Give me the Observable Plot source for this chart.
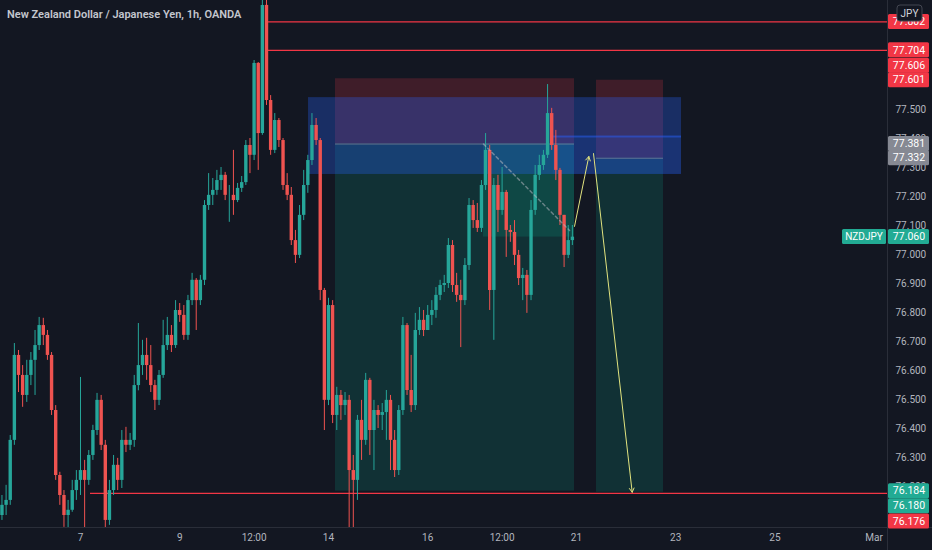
<!DOCTYPE html>
<html><head><meta charset="utf-8">
<script src="https://cdn.jsdelivr.net/npm/d3@7"></script>
<script src="https://cdn.jsdelivr.net/npm/@observablehq/plot@0.6"></script>
<style>
html,body{margin:0;padding:0;background:#131722;overflow:hidden}
</style>
</head><body><div id="chart"></div>
<script>
// ---- Data (2-hour bars, NZDJPY, OANDA) ----
const firstOpen = 76.100;
const firstBarDay = -19 / 12;   // trading-day index of the first bar (0 = Feb 7)
const barStepDay = 1 / 12;      // each bar = 2 hours
const close = [76.135,76.152,76.359,76.652,76.583,76.514,76.583,76.635,76.686,76.755,
76.721,76.652,76.462,76.238,76.169,76.100,76.118,76.186,76.221,76.255,
76.221,76.307,76.393,76.497,76.342,76.083,76.186,76.273,76.221,76.359,
76.342,76.359,76.548,76.617,76.652,76.617,76.548,76.497,76.583,76.686,
76.721,76.686,76.807,76.790,76.721,76.841,76.911,76.841,76.911,77.169,
77.204,77.221,77.255,77.273,77.204,77.204,77.186,77.228,77.248,77.376,
77.342,77.659,77.417,77.859,77.531,77.359,77.462,77.393,77.238,77.204,
77.048,76.997,77.135,77.238,77.324,77.445,77.393,76.876,76.497,76.824,
76.445,76.514,76.479,76.497,76.255,76.221,76.428,76.359,76.566,76.393,
76.462,76.445,76.455,76.497,76.359,76.255,76.462,76.755,76.531,76.479,
76.738,76.773,76.738,76.790,76.807,76.859,76.893,76.900,77.031,76.893,
76.859,76.841,76.962,77.169,77.117,77.090,77.238,77.359,76.876,77.238,
77.152,77.214,77.083,77.076,76.997,76.917,76.928,76.859,77.152,77.273,
77.307,77.342,77.486,77.376,77.290,77.135,76.997,77.048,77.060];
const high = [76.169,76.204,76.376,76.693,76.669,76.617,76.635,76.662,76.738,76.783,
76.780,76.738,76.662,76.479,76.249,76.186,76.152,76.221,76.255,76.576,
76.290,76.324,76.411,76.521,76.514,76.359,76.221,76.307,76.297,76.393,
76.404,76.383,76.583,76.762,76.704,76.711,76.686,76.566,76.600,76.773,
76.783,76.755,76.841,76.831,76.824,76.859,76.935,76.917,76.928,77.186,
77.279,77.262,77.290,77.300,77.283,77.238,77.359,77.245,77.269,77.393,
77.400,77.669,77.662,77.928,77.910,77.548,77.486,77.469,77.400,77.279,
77.231,77.083,77.169,77.290,77.342,77.486,77.469,77.400,76.883,76.849,
76.841,76.542,76.531,76.524,76.514,76.307,76.445,76.497,76.590,76.573,
76.497,76.479,76.486,76.531,76.514,76.393,76.479,76.783,76.762,76.652,
76.797,76.817,76.807,76.824,76.841,76.886,76.911,76.928,77.055,77.048,
76.935,76.911,76.986,77.193,77.186,77.176,77.255,77.417,77.376,77.262,
77.273,77.300,77.221,77.100,77.117,77.014,76.952,76.945,77.186,77.307,
77.342,77.359,77.586,77.504,77.428,77.297,77.135,77.100,77.100];
const low = [76.083,76.100,76.135,76.342,76.524,76.473,76.490,76.548,76.514,76.669,
76.686,76.635,76.445,76.221,76.135,76.059,76.049,76.111,76.152,76.169,
76.049,76.204,76.290,76.376,76.324,76.049,76.066,76.169,76.186,76.193,
76.317,76.324,76.335,76.530,76.583,76.566,76.524,76.462,76.479,76.573,
76.669,76.662,76.676,76.766,76.704,76.704,76.824,76.738,76.824,76.893,
77.152,77.169,77.204,77.221,77.186,77.111,77.135,77.179,77.214,77.238,
77.279,77.324,77.290,77.411,77.514,77.342,77.348,77.369,77.221,77.186,
77.031,76.969,76.986,77.117,77.211,77.307,77.376,76.841,76.393,76.479,
76.417,76.393,76.428,76.445,75.997,76.014,76.152,76.290,76.342,76.307,
76.255,76.400,76.393,76.359,76.255,76.231,76.238,76.445,76.514,76.455,
76.462,76.721,76.717,76.738,76.755,76.780,76.841,76.869,76.883,76.869,
76.835,76.679,76.824,76.945,77.090,77.076,77.076,77.221,76.807,76.704,
77.076,77.135,76.990,77.042,76.962,76.893,76.841,76.797,76.841,77.135,
77.255,77.290,77.331,77.359,77.255,77.100,76.955,76.986,77.031];

// x axis ticks (trading-day index) and their labels
const tickDays = [0, 2, 3.5, 5, 7, 8.5, 10, 12, 14, 16];
const tickLabels = ["7", "9", "12:00", "14", "16", "12:00", "21", "23", "25", "Mar"];
const priceTicks = [76.2,76.3,76.4,76.5,76.6,76.7,76.8,76.9,77.0,77.1,77.2,77.3,77.4,77.5];
const viewDays = [-1.6129, 16.2702];
const viewPrices = [76.0586, 77.8759];

// drawings (in time / price units)
const positions = [
  {start: 5.141, end: 9.960, entry: 77.381, stop: 77.606, target: 76.184},
  {start: 10.403, end: 11.754, entry: 77.332, stop: 77.601, target: 76.180}
];
const pnlArea = [{start: 8.125, end: 9.960, from: 77.381, to: 77.060}];
const zoneMain = [{start: 4.597, end: 12.117, top: 77.541, bottom: 77.276}];
const zoneInner = [{start: 9.536, end: 12.117, top: 77.407, bottom: 77.276}];
const hLines = [
  {price: 77.802, from: 3.79, to: 16.2702},
  {price: 77.704, from: 3.79, to: 16.2702},
  {price: 76.176, from: 0.2016, to: 16.2702}
];
const arrows = [
  {t1: 9.960, p1: 77.097, t2: 10.248, p2: 77.338},
  {t1: 10.343, p1: 77.348, t2: 11.123, p2: 76.180}
];
const dashPath = [{t: 8.125, p: 77.381}, {t: 9.86, p: 77.083}];

// right-axis badges: value, text, kind, nudge (label stacking like TradingView)
const badges = [
  {price: 77.802, label: "77.802", kind: "red", nudge: 0},
  {price: 77.704, label: "77.704", kind: "red", nudge: 0},
  {price: 77.606, label: "77.606", kind: "red", nudge: -13},
  {price: 77.601, label: "77.601", kind: "red", nudge: 0},
  {price: 77.381, label: "77.381", kind: "grey", nudge: 0},
  {price: 77.332, label: "77.332", kind: "grey", nudge: 0},
  {price: 77.060, label: "77.060", kind: "teal", nudge: 0},
  {price: 76.184, label: "76.184", kind: "teal", nudge: 0},
  {price: 76.180, label: "76.180", kind: "teal", nudge: 14},
  {price: 76.176, label: "76.176", kind: "red", nudge: 28}
];
const symbolName = "NZDJPY";
const lastPrice = 77.060;
const currencyTag = "JPY";
const title = "New Zealand Dollar / Japanese Yen, 1h, OANDA";

// ---- build ----
const UP = "#26a69a", DOWN = "#ef5350";
const bars = close.map((c, i) => {
  const o = i === 0 ? firstOpen : close[i - 1];
  return {t: firstBarDay + i * barStepDay, o, c,
          h: Math.max(high[i], o, c), l: Math.min(low[i], o, c),
          col: c >= o ? UP : DOWN};
});

const chart = Plot.plot({
  width: 932, height: 550,
  marginLeft: 0, marginRight: 45, marginTop: 0, marginBottom: 23,
  style: {background: "#131722", color: "#b2b5be", fontFamily: "Roboto, 'Noto Sans', sans-serif", fontSize: "10px"},
  x: {domain: viewDays, axis: null},
  y: {domain: viewPrices, axis: null},
  color: {type: "identity"},
  marks: [
    Plot.rect(positions, {x1: "start", x2: "end", y1: "entry", y2: "stop", fill: "#f23645", fillOpacity: 0.2}),
    Plot.rect(positions, {x1: "start", x2: "end", y1: "target", y2: "entry", fill: "#089981", fillOpacity: 0.2}),
    Plot.rect(pnlArea, {x1: "start", x2: "end", y1: "to", y2: "from", fill: "#089981", fillOpacity: 0.22}),
    Plot.rect(zoneMain, {x1: "start", x2: "end", y1: "bottom", y2: "top", fill: "#2962ff", fillOpacity: 0.3}),
    Plot.rect(zoneInner, {x1: "start", x2: "end", y1: "bottom", y2: "top", fill: "#2962ff", fillOpacity: 0.1}),
    Plot.ruleY(zoneInner, {y: "top", x1: "start", x2: "end", stroke: "#2962ff", strokeOpacity: 0.45, strokeWidth: 2}),
    Plot.ruleY(positions, {y: "entry", x1: "start", x2: "end", stroke: "#9598a1", strokeOpacity: 0.6}),
    Plot.ruleY(hLines, {y: "price", x1: "from", x2: "to", stroke: "#f23645", strokeWidth: 1.2}),
    Plot.ruleX(bars, {x: "t", y1: "l", y2: "h", stroke: "col", strokeWidth: 1, clip: true}),
    Plot.ruleX(bars, {x: "t", y1: "o", y2: "c", stroke: "col", strokeWidth: 3.4, clip: true}),
    Plot.line(dashPath, {x: "t", y: "p", stroke: "#b2b5be", strokeOpacity: 0.55, strokeDasharray: "3,3"}),
    Plot.arrow(arrows, {x1: "t1", y1: "p1", x2: "t2", y2: "p2", stroke: "#e2e47f", strokeWidth: 1, headLength: 7}),
    Plot.axisX({ticks: tickDays, tickFormat: d => tickLabels[tickDays.indexOf(d)], tickSize: 0, tickPadding: 6, fill: "#b2b5be", fontSize: 10}),
    Plot.axisY({anchor: "right", ticks: priceTicks, tickFormat: d => d.toFixed(3), tickSize: 0, tickPadding: 8, fill: "#b2b5be", fontSize: 10})
  ]
});
document.getElementById("chart").appendChild(chart);

// ---- overlays drawn with the chart's own scales ----
const ys = chart.scale("y"), xs = chart.scale("x");
const Y = d3.scaleLinear(ys.domain, ys.range);
const X = d3.scaleLinear(xs.domain, xs.range);
const svg = d3.select(chart);
const axisX0 = X.range()[1];       // right edge of plot frame
const axisY0 = Y.range()[0];       // bottom edge of plot frame

svg.append("line").attr("x1", 0).attr("x2", 932).attr("y1", axisY0 + 0.5).attr("y2", axisY0 + 0.5).attr("stroke", "#2a2e39");
svg.append("line").attr("x1", axisX0 + 0.5).attr("x2", axisX0 + 0.5).attr("y1", 0).attr("y2", 550).attr("stroke", "#2a2e39");

const fills = {red: "#f23645", grey: "#868993", teal: "#22ab94"};
const g = svg.append("g");
for (const b of badges) {
  const cy = Y(b.price) + b.nudge;
  g.append("rect").attr("x", axisX0 + 1).attr("y", cy - 7.5).attr("width", 41).attr("height", 15).attr("rx", 1.5).attr("fill", fills[b.kind]);
  g.append("text").attr("x", axisX0 + 22).attr("y", cy).attr("dy", "0.35em").attr("text-anchor", "middle")
    .attr("fill", "#ffffff").attr("font-size", 10.5).text(b.label);
}
// symbol tag left of the axis
const cyL = Y(lastPrice);
svg.append("rect").attr("x", axisX0 - 45).attr("y", cyL - 7.5).attr("width", 44).attr("height", 15).attr("rx", 1.5).attr("fill", fills.teal);
svg.append("text").attr("x", axisX0 - 23).attr("y", cyL).attr("dy", "0.35em").attr("text-anchor", "middle")
  .attr("fill", "#ffffff").attr("font-size", 10).text(symbolName);
// currency tag
svg.append("rect").attr("x", axisX0 + 10).attr("y", 5).attr("width", 25).attr("height", 16).attr("rx", 3)
  .attr("fill", "#131722").attr("stroke", "#434651");
svg.append("text").attr("x", axisX0 + 22.5).attr("y", 13).attr("dy", "0.35em").attr("text-anchor", "middle")
  .attr("fill", "#d1d4dc").attr("font-size", 10).text(currencyTag);
// title
svg.append("text").attr("x", 7).attr("y", 18).attr("text-anchor", "start").attr("fill", "#c3c6ce")
  .attr("font-size", 11).attr("font-weight", 600).text(title);
</script>
</body></html>
